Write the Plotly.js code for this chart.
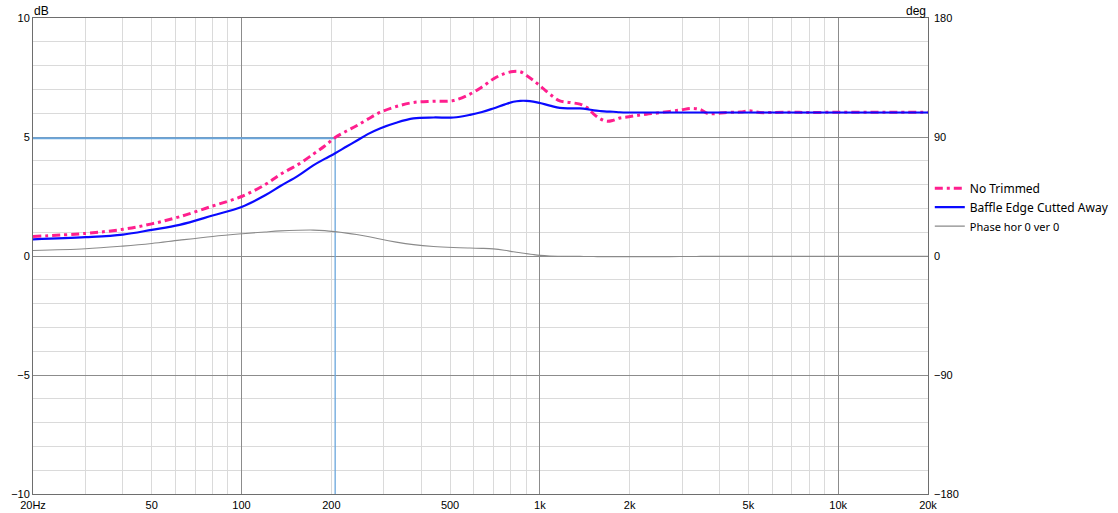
<!DOCTYPE html>
<html><head><meta charset="utf-8">
<script src="https://cdn.plot.ly/plotly-3.0.1.min.js"></script>
<style>html,body{margin:0;padding:0;background:#fff}#chart{width:1118px;height:513px}</style>
</head><body><div id="chart"></div>
<script>
// ---- data ----
const freqHz = [20, 30, 40, 50, 62, 80, 100, 120, 135, 155, 174, 190, 206, 225, 243, 265, 291, 330, 377, 440, 513, 583, 640, 698, 760, 815, 860, 902, 950, 1000, 1080, 1166, 1260, 1363, 1440, 1516, 1600, 1677, 1760, 1853, 1960, 2100, 2277, 2560, 2945, 3236, 3450, 3650, 4240, 4700, 5050, 5450, 6000, 7000, 8000, 10000, 13000, 16000, 20000];
const noTrimmedDb = [0.82, 0.95, 1.12, 1.35, 1.65, 2.1, 2.5, 3.0, 3.43, 3.85, 4.28, 4.62, 4.98, 5.25, 5.47, 5.75, 6.03, 6.28, 6.45, 6.5, 6.53, 6.8, 7.1, 7.44, 7.66, 7.75, 7.74, 7.58, 7.38, 7.16, 6.8, 6.52, 6.45, 6.38, 6.24, 5.96, 5.75, 5.66, 5.7, 5.8, 5.84, 5.9, 5.96, 6.03, 6.13, 6.2, 6.15, 5.99, 6.03, 6.05, 6.1, 6.03, 6.03, 6.04, 6.03, 6.04, 6.04, 6.04, 6.04];
const baffleCutDb = [0.70, 0.79, 0.9, 1.1, 1.31, 1.7, 2.06, 2.55, 2.94, 3.38, 3.81, 4.08, 4.32, 4.6, 4.84, 5.12, 5.36, 5.6, 5.78, 5.82, 5.82, 5.93, 6.05, 6.2, 6.36, 6.48, 6.52, 6.52, 6.49, 6.43, 6.32, 6.22, 6.2, 6.2, 6.17, 6.12, 6.09, 6.07, 6.06, 6.04, 6.03, 6.03, 6.03, 6.03, 6.03, 6.03, 6.03, 6.03, 6.03, 6.03, 6.03, 6.03, 6.03, 6.03, 6.03, 6.03, 6.03, 6.03, 6.03];
const phaseDeg = [4.2, 5.5, 7.5, 9.5, 12.0, 14.8, 16.8, 18.2, 19.0, 19.5, 19.6, 19.2, 18.4, 17.3, 16.2, 14.8, 12.8, 10.5, 8.6, 7.2, 6.4, 6.0, 5.8, 5.4, 4.4, 3.2, 2.4, 1.8, 1.1, 0.5, 0.0, -0.2, -0.3, -0.3, -0.4, -0.4, -0.5, -0.5, -0.5, -0.5, -0.5, -0.5, -0.5, -0.5, -0.4, -0.4, -0.3, -0.3, -0.3, -0.3, -0.3, -0.3, -0.3, -0.3, -0.3, -0.3, -0.3, -0.3, -0.3];

const seriesNames = ['No Trimmed', 'Baffle Edge Cutted Away', 'Phase hor 0 ver 0'];
const xTickVals = [20, 50, 100, 200, 500, 1000, 2000, 5000, 10000, 20000];
const xTickText = ['20Hz', '50', '100', '200', '500', '1k', '2k', '5k', '10k', '20k'];
const xMajorGrid = [100, 1000, 10000];
const xMinorGrid = [30, 40, 50, 60, 70, 80, 90, 200, 300, 400, 500, 600, 700, 800, 900, 2000, 3000, 4000, 5000, 6000, 7000, 8000, 9000];
const yTickVals = [-10, -5, 0, 5, 10];
const phaseTickVals = [-180, -90, 0, 90, 180];
const cursorFreq = 206;
const cursorLevel = 4.95;

// ---- styling ----
const xRange = [Math.log10(20), Math.log10(20000)];
const tickFont = {family: 'Liberation Sans, Arial, sans-serif', size: 11, color: '#000'};
const majorGrid = '#8c8c8c', minorGrid = '#dadada', border = '#6e6e6e';

const data = [
  {x: [freqHz[0], cursorFreq], y: [cursorLevel, cursorLevel], xaxis: 'x', yaxis: 'y', mode: 'lines',
   line: {color: '#6aa6dc', width: 2}, showlegend: false, hoverinfo: 'skip'},
  {x: [cursorFreq, cursorFreq], y: [cursorLevel, yTickVals[0]], xaxis: 'x', yaxis: 'y', mode: 'lines',
   line: {color: '#6aa6dc', width: 1.3}, showlegend: false, hoverinfo: 'skip'},
  {x: freqHz, y: noTrimmedDb, name: seriesNames[0], mode: 'lines', xaxis: 'x', yaxis: 'y',
   line: {color: '#ff1f8e', width: 3, dash: '8px,4px,3px,4px', shape: 'spline', smoothing: 1}},
  {x: freqHz, y: baffleCutDb, name: seriesNames[1], mode: 'lines', xaxis: 'x', yaxis: 'y',
   line: {color: '#0a0aff', width: 2.2, shape: 'spline', smoothing: 1}},
  {x: freqHz, y: phaseDeg, name: '<span style="font-size:11px">' + seriesNames[2] + '</span>', mode: 'lines', xaxis: 'x2', yaxis: 'y2',
   line: {color: '#8a8a8a', width: 1.1, shape: 'spline', smoothing: 1}}
];

const layout = {
  width: 1118, height: 513,
  margin: {l: 33, r: 190, t: 18, b: 19, pad: 0, autoexpand: false},
  paper_bgcolor: '#fff', plot_bgcolor: '#fff',
  showlegend: true,
  xaxis: {type: 'log', range: xRange, tickmode: 'array', tickvals: xMajorGrid, showticklabels: false,
    showgrid: true, gridcolor: majorGrid, gridwidth: 1, zeroline: false,
    showline: true, mirror: true, linecolor: border, linewidth: 1, ticks: '',
    minor: {tickmode: 'array', tickvals: xMinorGrid, showgrid: true, gridcolor: minorGrid, gridwidth: 1, ticks: ''}},
  xaxis2: {type: 'log', range: xRange, overlaying: 'x', anchor: 'y', side: 'bottom', tickmode: 'array',
    tickvals: xTickVals, ticktext: xTickText, showgrid: false, zeroline: false, showline: false, ticks: '',
    ticklabelstandoff: 3, tickfont: tickFont},
  yaxis: {range: [-10, 10], tickmode: 'array', tickvals: yTickVals, showgrid: true, gridcolor: majorGrid, gridwidth: 1,
    zeroline: false, showline: true, mirror: true, linecolor: border, linewidth: 1, ticks: '', tickfont: tickFont,
    minor: {tickmode: 'linear', tick0: 0, dtick: 1, showgrid: true, gridcolor: minorGrid, gridwidth: 1, ticks: ''}},
  yaxis2: {range: [-180, 180], overlaying: 'y', side: 'right', anchor: 'x', tickmode: 'array', tickvals: phaseTickVals,
    showgrid: false, zeroline: false, showline: false, ticks: '', ticklabelstandoff: 5, tickfont: tickFont},
  legend: {x: 1.002, xanchor: 'left', y: 0.673, yanchor: 'top', bgcolor: 'rgba(0,0,0,0)',
    font: {family: 'Noto Sans, sans-serif', size: 12, color: '#000'}, tracegroupgap: 0, itemwidth: 30},
  annotations: [
    {text: 'dB', xref: 'paper', yref: 'paper', x: 0, y: 1, xanchor: 'left', yanchor: 'bottom', showarrow: false,
     font: {family: 'Liberation Sans, Arial, sans-serif', size: 12, color: '#000'}, xshift: -1, yshift: -2},
    {text: 'deg', xref: 'paper', yref: 'paper', x: 1, y: 1, xanchor: 'right', yanchor: 'bottom', showarrow: false,
     font: {family: 'Liberation Sans, Arial, sans-serif', size: 12, color: '#000'}, yshift: -2}
  ]
};

Plotly.newPlot('chart', data, layout, {displayModeBar: false, responsive: false});
</script></body></html>
